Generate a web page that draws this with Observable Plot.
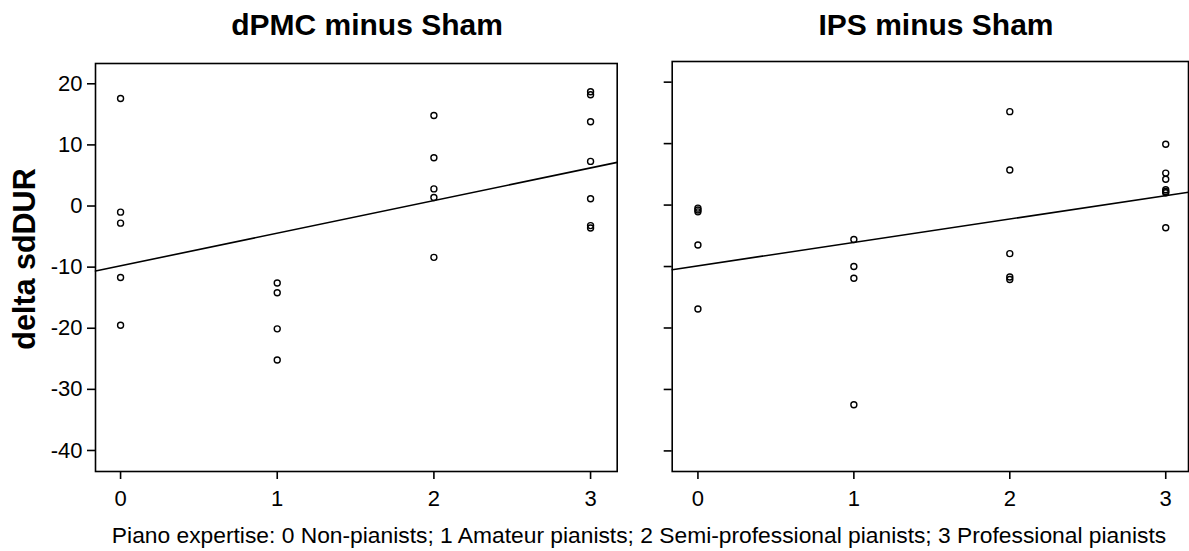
<!DOCTYPE html>
<html>
<head>
<meta charset="utf-8">
<script src="https://cdn.jsdelivr.net/npm/d3@7"></script>
<script src="https://cdn.jsdelivr.net/npm/@observablehq/plot@0.6"></script>
<style>
  html, body { margin: 0; padding: 0; background: #fff; }
  #wrap { position: relative; width: 1189px; height: 551px; overflow: hidden; font-family: "Liberation Sans", Arial, sans-serif; color: #000; }
  .abs { position: absolute; }
  .title { font-weight: bold; font-size: 30px; line-height: 1; white-space: nowrap; transform: translateX(-50%); }
  .caption { font-size: 22.8px; line-height: 1; white-space: nowrap; transform: translateX(-50%); }
  .ylab { font-weight: bold; font-size: 30.5px; line-height: 1; white-space: nowrap; transform: translate(-50%, -50%) rotate(-90deg); }
  svg { background: transparent !important; }
</style>
</head>
<body>
<div id="wrap"></div>
<script>
// Piano expertise group (x) for each participant
const expertise = [0,0,0,0,0, 1,1,1,1, 2,2,2,2,2, 3,3,3,3,3,3,3];
// delta sdDUR, dPMC minus Sham
const dpmc = [17.6,-1.0,-2.8,-11.7,-19.5, -12.6,-14.2,-20.1,-25.2, 14.8,7.9,2.8,1.4,-8.4, 18.7,18.2,13.8,7.3,1.2,-3.2,-3.6];
// delta sdDUR, IPS minus Sham
const ips = [-0.5,-0.8,-1.1,-6.5,-16.9, -5.6,-10.0,-11.9,-32.5, 15.2,5.7,-7.9,-11.7,-12.1, 9.9,5.2,4.2,2.0,2.2,2.5,-3.7];
const titles = ["dPMC minus Sham", "IPS minus Sham"];
const xTicks = [0, 1, 2, 3];
const yTicks = [-40, -30, -20, -10, 0, 10, 20];
const captionText = "Piano expertise: 0 Non-pianists; 1 Amateur pianists; 2 Semi-professional pianists; 3 Professional pianists";
const yLabel = "delta sdDUR";

const wrap = document.getElementById("wrap");

function fit(xs, ys) {
  const mx = d3.mean(xs), my = d3.mean(ys);
  let sxy = 0, sxx = 0;
  xs.forEach((x, i) => { sxy += (x - mx) * (ys[i] - my); sxx += (x - mx) * (x - mx); });
  const b = sxy / sxx;
  return {a: my - b * mx, b};
}

function panel(values, opts) {
  const data = expertise.map((x, i) => ({x, y: values[i]}));
  const {a, b} = fit(expertise, values);
  const line = opts.xDomain.map(x => ({x, y: a + b * x}));
  const p = Plot.plot({
    width: opts.width,
    height: 551,
    marginLeft: opts.ml,
    marginRight: opts.mr,
    marginTop: opts.mt,
    marginBottom: 80,
    style: {fontFamily: "'Liberation Sans', Arial, sans-serif", fontSize: "22px", color: "#000", background: "transparent"},
    x: {domain: opts.xDomain},
    y: {domain: opts.yDomain},
    marks: [
      Plot.frame({stroke: "#000", strokeWidth: 1.6}),
      Plot.axisX({ticks: xTicks, tickSize: 8, tickPadding: 11, tickFormat: d => d, label: null, stroke: "#000", strokeWidth: 1.6, fill: "#000"}),
      Plot.axisY({ticks: yTicks, tickSize: 8, tickPadding: 5, tickFormat: opts.labels ? (d => d) : (() => ""), label: null, stroke: "#000", strokeWidth: 1.6, fill: "#000"}),
      Plot.line(line, {x: "x", y: "y", stroke: "#000", strokeWidth: 1.6}),
      Plot.dot(data, {x: "x", y: "y", r: 3, stroke: "#000", strokeWidth: 1.4, fill: "none"})
    ]
  });
  p.style.position = "absolute";
  p.style.left = opts.left + "px";
  p.style.top = "0px";
  wrap.appendChild(p);
}

panel(dpmc, {left: 0, width: 640, ml: 95, mr: 23.3, mt: 63, xDomain: [-0.16, 3.17], yDomain: [-43.44, 23.32], labels: true});
panel(ips, {left: 650, width: 539, ml: 21.7, mr: 1, mt: 61, xDomain: [-0.165, 3.146], yDomain: [-43.35, 23.36], labels: false});

function addDiv(cls, text, left, top) {
  const d = document.createElement("div");
  d.className = "abs " + cls;
  d.textContent = text;
  d.style.left = left + "px";
  d.style.top = top + "px";
  wrap.appendChild(d);
}
addDiv("title", titles[0], 367, 10);
addDiv("title", titles[1], 936, 10);
addDiv("caption", captionText, 639, 524);
addDiv("ylab", yLabel, 24, 259);
</script>
</body>
</html>
